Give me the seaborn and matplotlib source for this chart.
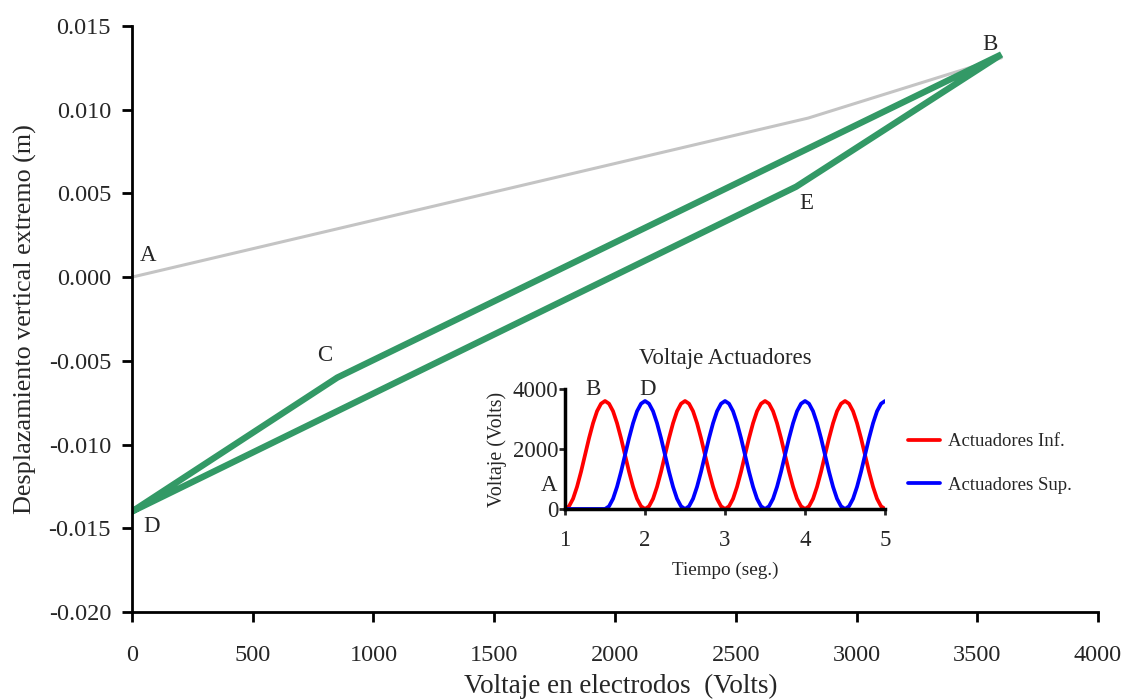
import matplotlib
matplotlib.use("Agg")
import matplotlib.pyplot as plt
from matplotlib.ticker import FormatStrFormatter
import seaborn as sns

# main chart data
gray_x = [0, 2800, 3600]
gray_y = [0.0, 0.0095, 0.0131]
green_x = [0, 850, 3600, 2750, 0]
green_y = [-0.0140, -0.0060, 0.0133, 0.0054, -0.0140]
point_labels = ["A", "B", "C", "D", "E"]
point_x = [66, 3553, 799, 83, 2791]
point_y = [0.0013, 0.0139, -0.0047, -0.0149, 0.0044]

# inset data (voltage vs time), sampled every 0.05 s
t = [round(1 + 0.05 * i, 2) for i in range(81)]
v_inf = [0, 90, 340, 740, 1240, 1800, 2360, 2860, 3260, 3510,
         3600, 3510, 3260, 2860, 2360, 1800, 1240, 740, 340, 90,
         0, 90, 340, 740, 1240, 1800, 2360, 2860, 3260, 3510,
         3600, 3510, 3260, 2860, 2360, 1800, 1240, 740, 340, 90,
         0, 90, 340, 740, 1240, 1800, 2360, 2860, 3260, 3510,
         3600, 3510, 3260, 2860, 2360, 1800, 1240, 740, 340, 90,
         0, 90, 340, 740, 1240, 1800, 2360, 2860, 3260, 3510,
         3600, 3510, 3260, 2860, 2360, 1800, 1240, 740, 340, 90,
         0]
v_sup = [0, 0, 0, 0, 0, 0, 0, 0, 0, 0,
         0, 90, 340, 740, 1240, 1800, 2360, 2860, 3260, 3510,
         3600, 3510, 3260, 2860, 2360, 1800, 1240, 740, 340, 90,
         0, 90, 340, 740, 1240, 1800, 2360, 2860, 3260, 3510,
         3600, 3510, 3260, 2860, 2360, 1800, 1240, 740, 340, 90,
         0, 90, 340, 740, 1240, 1800, 2360, 2860, 3260, 3510,
         3600, 3510, 3260, 2860, 2360, 1800, 1240, 740, 340, 90,
         0, 90, 340, 740, 1240, 1800, 2360, 2860, 3260, 3510,
         3600]

sns.set_style("ticks")
plt.rcParams['font.family'] = ['Liberation Serif', 'DejaVu Serif']
plt.rcParams['axes.unicode_minus'] = False

fig = plt.figure(figsize=(11.24, 7), dpi=100)
ax = fig.add_axes([0.1174, 0.1257, 0.8595, 0.8372])

sns.lineplot(x=gray_x, y=gray_y, sort=False, estimator=None, color="#c4c4c4",
             linewidth=2.2, ax=ax)
sns.lineplot(x=green_x, y=green_y, sort=False, estimator=None, color="#339966",
             linewidth=4.6, ax=ax, solid_joinstyle="miter")
for lab, px, py in zip(point_labels, point_x, point_y):
    ax.text(px, py, lab, fontsize=16.5, ha="center", va="center")

ax.set_xlim(0, 4000)
ax.set_ylim(-0.020, 0.015)
ax.set_xticks([0, 500, 1000, 1500, 2000, 2500, 3000, 3500, 4000])
ax.set_yticks([-0.020, -0.015, -0.010, -0.005, 0.0, 0.005, 0.010, 0.015])
ax.yaxis.set_major_formatter(FormatStrFormatter('%.3f'))
ax.tick_params(labelsize=17.5, width=2, length=7, color="black", direction="out")
ax.tick_params(axis="x", pad=17)
ax.tick_params(axis="y", pad=8)
ax.set_xlabel("Voltaje en electrodos  (Volts)", fontsize=19.5)
ax.set_ylabel("Desplazamiento vertical extremo (m)", fontsize=18.8)
ax.xaxis.set_label_coords(0.506, -0.106)
ax.yaxis.set_label_coords(-0.098, 0.5)
for s in ["top", "right"]:
    ax.spines[s].set_visible(False)
for s in ["left", "bottom"]:
    ax.spines[s].set_linewidth(2)
    ax.spines[s].set_color("black")

# inset
ins = fig.add_axes([0.5027, 0.2729, 0.2847, 0.1714])
sns.lineplot(x=t, y=v_inf, color="#ff0000", linewidth=2.7, ax=ins,
             label="Actuadores Inf.")
sns.lineplot(x=t, y=v_sup, color="#0000ff", linewidth=2.7, ax=ins,
             label="Actuadores Sup.")
ins.set_xlim(1, 5)
ins.set_ylim(0, 4000)
ins.set_xticks([1, 2, 3, 4, 5])
ins.set_yticks([0, 2000, 4000])
ins.tick_params(labelsize=16.5, width=2, length=4, direction="out")
ins.tick_params(axis="x", pad=11)
ins.tick_params(axis="y", pad=1)
ins.set_title("Voltaje Actuadores", fontsize=16.4, pad=18)
ins.set_xlabel("Tiempo (seg.)", fontsize=13.8, labelpad=8)
ins.set_ylabel("Voltaje (Volts)", fontsize=14.3, labelpad=4)
for s in ["top", "right"]:
    ins.spines[s].set_visible(False)
for s in ["left", "bottom"]:
    ins.spines[s].set_linewidth(2.5)
    ins.spines[s].set_color("black")
ins.patch.set_alpha(0)
for lab, px, py in [("B", 1.35, 3970), ("D", 2.03, 3970), ("A", 0.8, 770)]:
    ins.text(px, py, lab, fontsize=16.5, ha="center", va="center", clip_on=False)
ins.legend(loc="center left", bbox_to_anchor=(1.02, 0.38), frameon=False,
           fontsize=13.5, labelspacing=1.4, handlelength=1.7, handletextpad=0.4)

fig.savefig("out.png", dpi=100)
